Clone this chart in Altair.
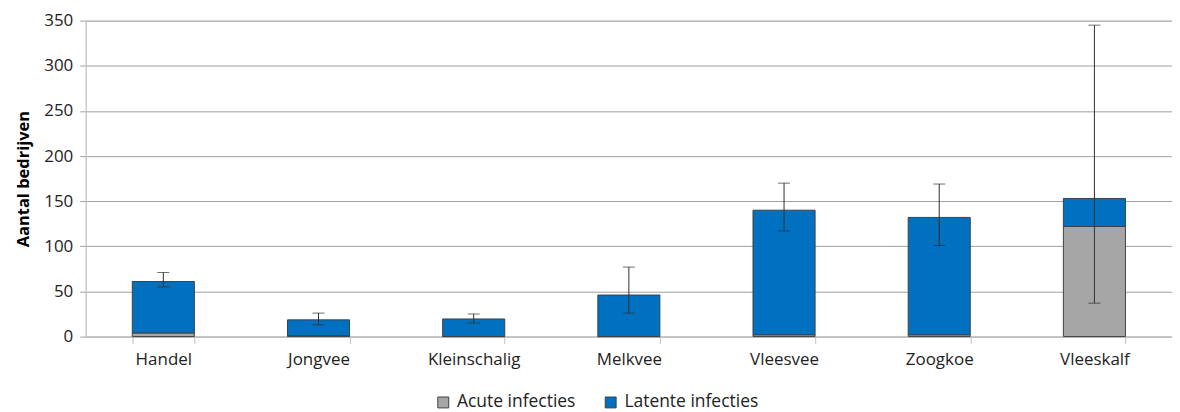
import altair as alt
import pandas as pd

categories = ["Handel", "Jongvee", "Kleinschalig", "Melkvee", "Vleesvee", "Zoogkoe", "Vleeskalf"]
acute = [4, 1, 0, 0, 2, 2, 122]
latent = [57, 17.5, 19.5, 46, 138, 130, 31]
err_low = [55, 13, 15, 26, 117, 101, 37]
err_high = [71, 26, 25, 77, 170, 169, 345]
series = ["Acute infecties", "Latente infecties"]
colors = ["#A6A6A6", "#0070C0"]

rows = []
for c, a, l in zip(categories, acute, latent):
    rows.append({"cat": c, "series": series[0], "value": a, "ord": 0})
    rows.append({"cat": c, "series": series[1], "value": l, "ord": 1})
bars_df = pd.DataFrame(rows)
err_df = pd.DataFrame({"cat": categories, "lo": err_low, "hi": err_high})

FONT = "Open Sans"
xscale = alt.Scale(domain=categories, paddingInner=0.6, paddingOuter=0.3)
yscale = alt.Scale(domain=[0, 350])

bars = alt.Chart(bars_df).mark_bar(stroke="#404040", strokeWidth=1).encode(
    x=alt.X("cat:N", scale=xscale, sort=categories,
            axis=alt.Axis(title=None, labelAngle=0, tickBand="extent", labelFontSize=17,
                          labelFont=FONT, labelColor="#222222", labelPadding=8,
                          domainColor="#BFBFBF", tickColor="#BFBFBF", tickSize=7,
                          grid=False)),
    y=alt.Y("value:Q", scale=yscale, stack="zero",
            axis=alt.Axis(title="Aantal bedrijven", values=list(range(0, 351, 50)),
                          titleFontSize=16.5, titleFont=FONT, titleFontWeight="bold",
                          titleColor="#000000", titlePadding=12,
                          labelFontSize=17, labelFont=FONT, labelColor="#222222",
                          labelPadding=7, tickSize=6, tickColor="#A0A0A0",
                          domainColor="#BFBFBF", gridColor="#A0A0A0", gridWidth=1)),
    color=alt.Color("series:N", scale=alt.Scale(domain=series, range=colors),
                    legend=alt.Legend(title=None, orient="none", direction="horizontal",
                                      legendX=350, legendY=374, symbolType="square",
                                      symbolSize=120, symbolStrokeColor="#404040",
                                      symbolStrokeWidth=1, labelFontSize=17.5,
                                      labelFont=FONT, labelColor="#222222",
                                      columnPadding=26, labelOffset=5)),
    order=alt.Order("ord:Q"),
)

rule = alt.Chart(err_df).mark_rule(color="#303030", strokeWidth=1).encode(
    x=alt.X("cat:N", scale=xscale, sort=categories),
    y=alt.Y("lo:Q", scale=yscale),
    y2="hi:Q",
)
cap_lo = alt.Chart(err_df).mark_tick(color="#303030", thickness=1, size=12, orient="horizontal").encode(
    x=alt.X("cat:N", scale=xscale, sort=categories),
    y=alt.Y("lo:Q", scale=yscale),
)
cap_hi = alt.Chart(err_df).mark_tick(color="#303030", thickness=1, size=12, orient="horizontal").encode(
    x=alt.X("cat:N", scale=xscale, sort=categories),
    y=alt.Y("hi:Q", scale=yscale),
)

chart = alt.layer(bars, rule, cap_lo, cap_hi).properties(
    width=1090, height=317,
    autosize=alt.AutoSizeParams(type="none"),
    padding={"left": 78, "top": 12, "right": 0, "bottom": 75},
).configure_view(stroke=None).configure(background="white")

chart.save("out.html", embed_options={"renderer": "svg", "actions": False})
